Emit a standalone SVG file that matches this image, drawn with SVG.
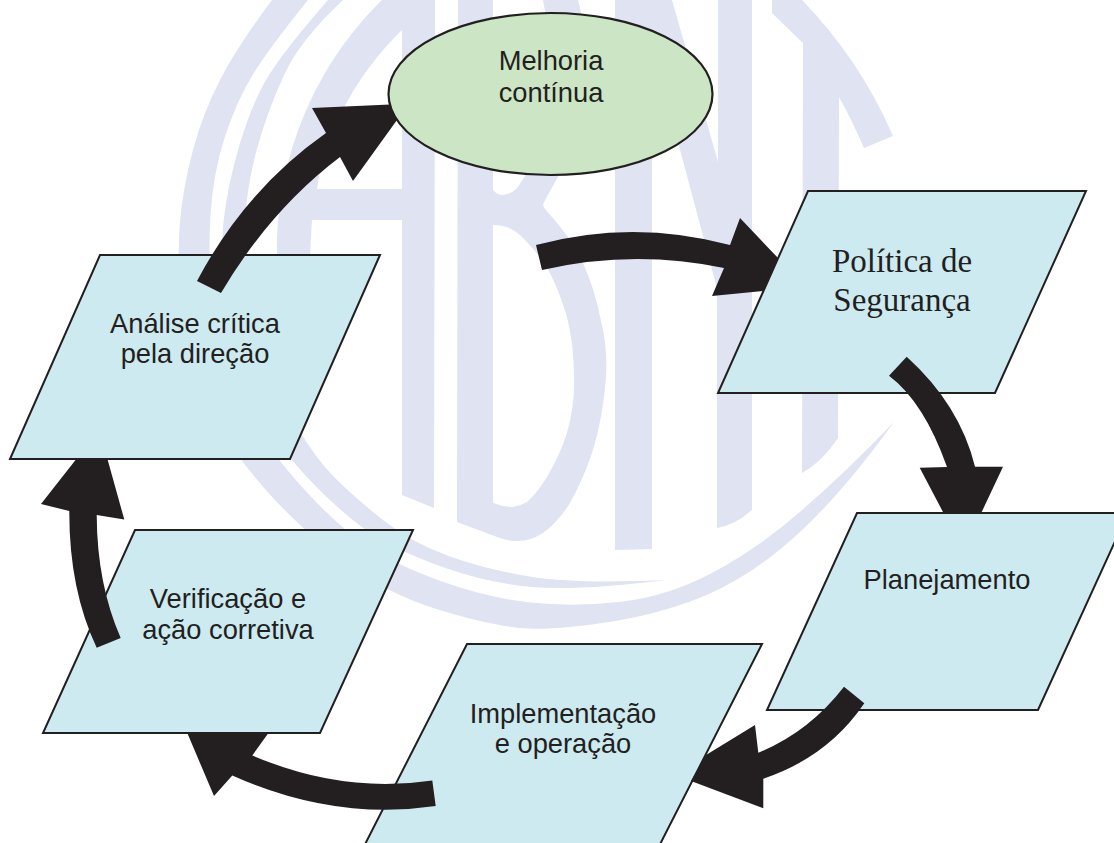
<svg xmlns="http://www.w3.org/2000/svg" width="1114" height="843" viewBox="0 0 1114 843">
<style>
.wm{fill:#dfe3f2;fill-rule:evenodd}
.box{fill:#cdeaf1;stroke:#231f20;stroke-width:2}
.oval{fill:#cce5c5;stroke:#231f20;stroke-width:2.2}
.arrow{fill:#231f20}
text{fill:#231f20;text-anchor:middle}
.sans{font-family:"Liberation Sans",Arial,sans-serif;font-size:27.3px}
.serif{font-family:"Liberation Serif","Times New Roman",serif;font-size:33px}
</style>
<rect width="1114" height="843" fill="#fff"/>
<g id="watermark">
<path class="wm" d="M272,0 Q237,47 220,80 Q203,113 193,150 Q183,187 180,222 Q177,257 181,293 Q185,330 195,365 Q205,400 221.5,429.5 Q238,459 269,493.5 Q300,528 342.5,560.5 Q385,593 436.5,609 Q488,625 520,628 Q552,631 609,622 Q666,613 711,593 Q756,573 800.5,531.5 Q845,490 894,422 Q845,473 800.5,511.5 Q756,550 711,573.5 Q666,597 619,602 Q572,607 530,602.5 Q488,598 442,581.5 Q396,565 368,546.5 Q340,528 308,493.5 Q276,459 258,429.5 Q240,400 227.5,365 Q215,330 211.5,293.5 Q208,257 210.5,215 Q213,173 225,136.5 Q237,100 253.5,73.5 Q270,47 308,0 Z"/>
<path class="wm" d="M328,0 Q287,47 270,73.5 Q253,100 240,143.5 Q227,187 223.5,222 Q220,257 224,293.5 Q228,330 240,365 Q252,400 270,429.5 Q288,459 320,490.5 Q352,522 377.5,537.5 Q403,553 445.5,568 Q488,583 532.5,587 Q577,591 666,580 Q577,584 532.5,577 Q488,570 450,556.5 Q412,543 383,520 Q354,497 335,478 Q316,459 297,427 Q278,395 264,362.5 Q250,330 246,293.5 Q242,257 245,218.5 Q248,180 258,145 Q268,110 284,75 Q300,40 343,0 Z"/>
<path class="wm" d="M382,0 L435,0 L434,508 L402,495 L402,220 L312,220 Q309,260 310,300 L277,300 L277,257 C276,170 306,75 382,0 Z M402,30 C360,70 325,130 317,189 L402,189 Z"/>
<path class="wm" d="M458,0 L493,0 L493,40 L550,40 L543,0 L578,0 L585,30 L600,100 L559,175 L544,202 Q542,206 545,209 Q557,222 568,237 Q577,250 583,263 Q595,290 600,317 Q608,347 606,377 Q603,417 593,450 Q583,480 570,503 Q558,522 543,533 Q530,541 518,541 Q508,541 500,538 L457,522 Z M493,160 L493,190 Q497,195 503,195 Q512,194 518,187 L535,160 Z M493,225 L493,503 Q503,507 513,507 Q520,506 527,502 Q538,492 547,477 Q560,455 567,433 Q575,405 574,377 Q574,345 567,317 Q560,293 550,273 Q540,255 525,240 Q517,231 507,227 Q500,225 493,225 Z"/>
<path class="wm" d="M615,0 L672,0 L718,162 L718,0 L752,0 L752,510 Q735,525 717,528 L717,288 L652,45 L652,549 L615,550 Z"/>
<path class="wm" d="M772,0 L802,0 Q860,60 893,136 L864,148 Q852,120 839,97 L838,438 Q822,462 802,473 L803,43 L772,13 Z"/>
</g>
<g id="melhoria">
<ellipse class="oval" cx="550.5" cy="94" rx="162" ry="81"/>
<text class="sans" x="551" y="70">Melhoria</text>
<text class="sans" x="551" y="102">contínua</text>
</g>
<g id="politica">
<polygon class="box" points="808,191 1086,191 995,393 718,393"/>
<text class="serif" x="902" y="272">Política de</text>
<text class="serif" x="902" y="311">Segurança</text>
</g>
<g id="planejamento">
<polygon class="box" points="857,513 1128,513 1038,710 767,710"/>
<text class="sans" x="947" y="589">Planejamento</text>
</g>
<g id="implementacao">
<polygon class="box" points="467,644 762,644 652,860 357,860"/>
<text class="sans" x="563" y="723">Implementação</text>
<text class="sans" x="563" y="753">e operação</text>
</g>
<g id="analise">
<polygon class="box" points="100,255 380,255 290,459 10,459"/>
<text class="sans" x="195" y="333">Análise crítica</text>
<text class="sans" x="195" y="363">pela direção</text>
</g>
<g id="verificacao">
<polygon class="box" points="135,530 413,530 320,733 43,733"/>
<text class="sans" x="228" y="608">Verificação e</text>
<text class="sans" x="228" y="639">ação corretiva</text>
</g>
<g id="connectors">
<path class="arrow" d="M197,281 Q245,190 326,133 L312,108 L390,104.5 L397,120 L353,181 L340,157 Q270,210 221,293 Z"/>
<path class="arrow" d="M536,245 Q633,219 730,245 L740,218 L778,258 L763,291 L712,296 L724,268 Q633,249 542,270 Z"/>
<path class="arrow" d="M906.7,356.7 Q960,405 975,466.7 L1003,466.7 L981.7,512 L943,512 L919.7,467.7 L947,467 Q924,402 889,375.7 Z"/>
<path class="arrow" d="M844,686.7 Q809,732 758.3,752.7 L755,725 L706,755 L691,781 L763.3,808.3 L763.3,778.7 Q828,757 864.3,703.3 Z"/>
<path class="arrow" d="M432.3,780.4 Q342,794 252.3,755.4 L267.7,734 L187.7,734 L214,796 L232.3,775.4 Q334,821 435.7,806 Z"/>
<path class="arrow" d="M96.7,647.7 Q69,589 69.3,511 L41,504 L76.7,458.5 L107.3,458.5 L124.3,519.6 L96.7,515 Q97,584 120.7,638 Z"/>
</g>
</svg>
